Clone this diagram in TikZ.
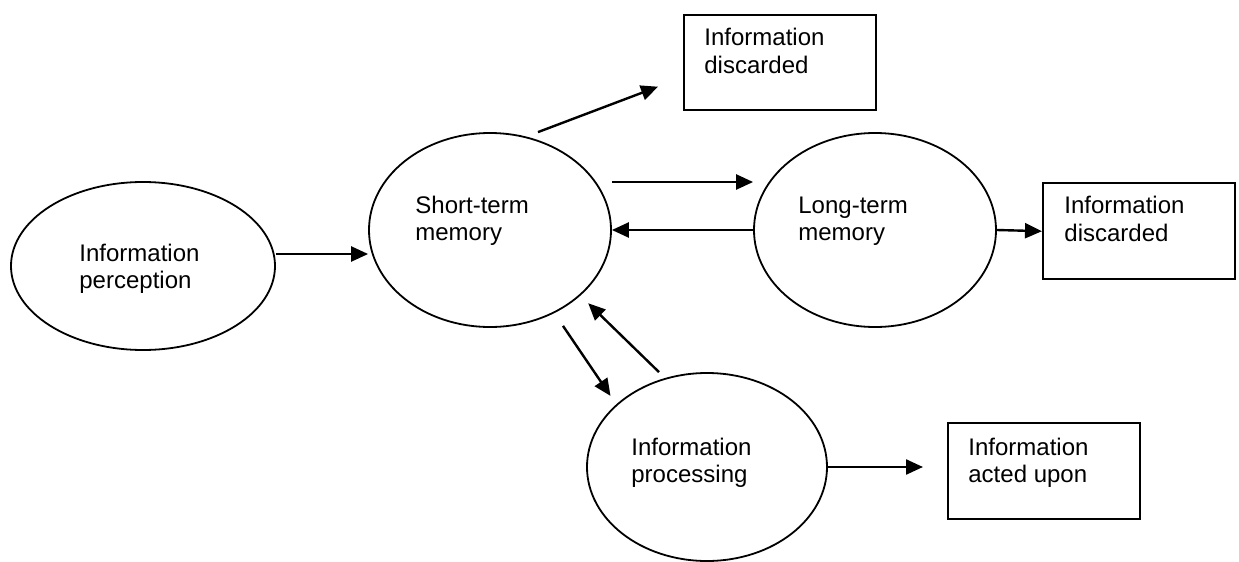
\documentclass[tikz,border=0pt]{standalone}
\usepackage{fontspec}
\setmainfont{Liberation Sans}
\usetikzlibrary{shapes.geometric, arrows.meta, positioning}

\tikzset{
  store/.style={draw, ellipse, line width=0.9pt, inner sep=0pt},
  outbox/.style={draw, rectangle, line width=1.2pt, inner sep=0pt, anchor=north west, minimum width=96pt, minimum height=48pt},
  label text/.style={anchor=base west, align=left, inner sep=0pt, font=\fontsize{12}{13.5}\selectfont},
  flow/.style={line width=1.2pt, -{Triangle[length=8.5pt,width=7.5pt]}}
}

\begin{document}
\begin{tikzpicture}[x=0.5pt, y=-0.5pt]
  \useasboundingbox (0,0) rectangle (1239,562);

  % Memory stores
  \node[store, minimum width=132pt, minimum height=84pt] (percept) at (143,266) {};
  \node[store, minimum width=121pt, minimum height=97pt] (stm) at (490,230) {};
  \node[store, minimum width=121pt, minimum height=97pt] (ltm) at (875,230) {};
  \node[store, minimum width=120pt, minimum height=94pt] (proc) at (707,467) {};

  % Outcome boxes
  \node[outbox, minimum height=47.5pt] (topdisc) at (683,14) {};
  \node[outbox] (rightdisc) at (1042,182) {};
  \node[outbox] (acted) at (947,422) {};

  % Texts (set to the upper left, as in the original; base = last line)
  \node[label text] (percept-txt) at (79,288) {Information\\perception};
  \node[label text] (stm-txt) at (415,240) {Short-term\\memory};
  \node[label text] (ltm-txt) at (798,240) {Long-term\\memory};
  \node[label text] (proc-txt) at (631,482) {Information\\processing};
  \node[label text] (topdisc-txt) at (704,73) {Information\\discarded};
  \node[label text] (rightdisc-txt) at (1064,241) {Information\\discarded};
  \node[label text] (acted-txt) at (968,482) {Information\\acted upon};

  % Flows
  \draw[flow] ([yshift=6pt]percept.east) -- ([yshift=6pt]percept.east -| stm.west);
  \draw[flow] ([xshift=24pt]stm.north) -- ([shift={(-12.5pt,-12pt)}]topdisc.west);
  \draw[flow] ([yshift=24pt]stm.east) -- ([yshift=24pt]ltm.west);
  \draw[flow] (ltm.west) -- (stm.east);
  \draw[flow] (ltm.east) -- (rightdisc.west);
  \draw[flow] ([shift={(36.5pt,1pt)}]stm.south) -- ([shift={(-5.5pt,2pt)}]proc.north west);
  \draw[flow] ([xshift=-24pt]proc.north) -- ([shift={(6pt,-2pt)}]stm.south east);
  \draw[flow] (proc.east) -- ([xshift=-12pt]acted.west |- proc.east);
\end{tikzpicture}
\end{document}
